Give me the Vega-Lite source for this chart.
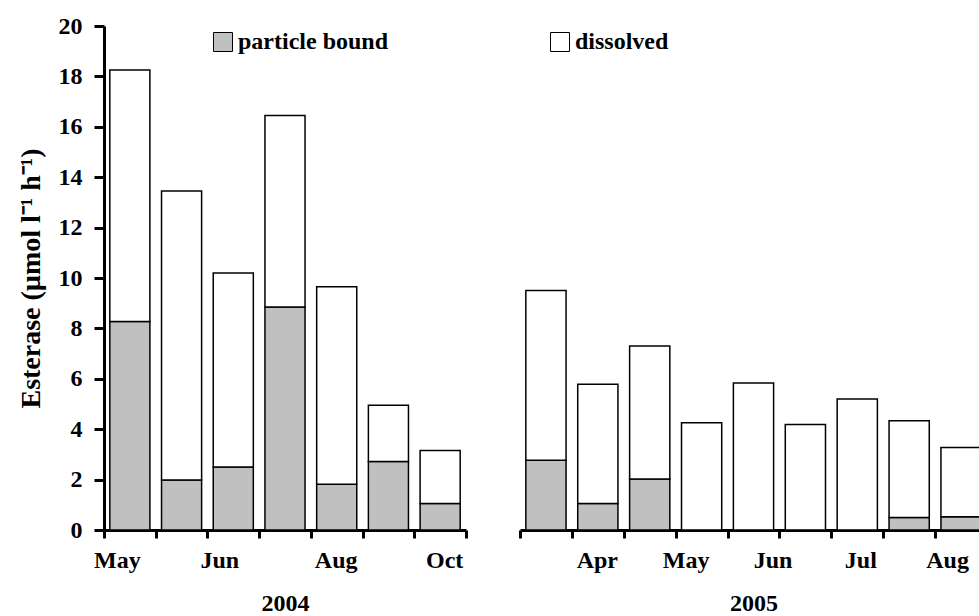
{
  "$schema": "https://vega.github.io/schema/vega-lite/v6.json",
  "padding": {"left": 17, "top": 14, "right": 0, "bottom": 0},
  "background": "white",
  "config": {
    "font": "Liberation Serif",
    "view": {"stroke": null},
    "axis": {
      "labelFont": "Liberation Serif", "labelFontWeight": "bold", "labelFontSize": 24, "labelColor": "black",
      "titleFont": "Liberation Serif", "titleFontWeight": "bold", "titleFontSize": 24, "titleColor": "black",
      "domainColor": "black", "domainWidth": 3, "tickColor": "black", "tickWidth": 3, "grid": false
    },
    "legend": {
      "labelFont": "Liberation Serif", "labelFontWeight": "bold", "labelFontSize": 24, "labelColor": "black"
    }
  },
  "datasets": {
    "y2004": [
      {"sample": "04-1", "type": "particle bound", "value": 8.27},
      {"sample": "04-1", "type": "dissolved", "value": 9.98},
      {"sample": "04-2", "type": "particle bound", "value": 1.98},
      {"sample": "04-2", "type": "dissolved", "value": 11.47},
      {"sample": "04-3", "type": "particle bound", "value": 2.5},
      {"sample": "04-3", "type": "dissolved", "value": 7.7},
      {"sample": "04-4", "type": "particle bound", "value": 8.85},
      {"sample": "04-4", "type": "dissolved", "value": 7.6},
      {"sample": "04-5", "type": "particle bound", "value": 1.82},
      {"sample": "04-5", "type": "dissolved", "value": 7.83},
      {"sample": "04-6", "type": "particle bound", "value": 2.72},
      {"sample": "04-6", "type": "dissolved", "value": 2.23},
      {"sample": "04-7", "type": "particle bound", "value": 1.05},
      {"sample": "04-7", "type": "dissolved", "value": 2.1}
    ],
    "y2005": [
      {"sample": "05-1", "type": "particle bound", "value": 2.77},
      {"sample": "05-1", "type": "dissolved", "value": 6.73},
      {"sample": "05-2", "type": "particle bound", "value": 1.05},
      {"sample": "05-2", "type": "dissolved", "value": 4.73},
      {"sample": "05-3", "type": "particle bound", "value": 2.02},
      {"sample": "05-3", "type": "dissolved", "value": 5.28},
      {"sample": "05-4", "type": "particle bound", "value": 0},
      {"sample": "05-4", "type": "dissolved", "value": 4.26},
      {"sample": "05-5", "type": "particle bound", "value": 0},
      {"sample": "05-5", "type": "dissolved", "value": 5.83},
      {"sample": "05-6", "type": "particle bound", "value": 0},
      {"sample": "05-6", "type": "dissolved", "value": 4.19},
      {"sample": "05-7", "type": "particle bound", "value": 0},
      {"sample": "05-7", "type": "dissolved", "value": 5.2},
      {"sample": "05-8", "type": "particle bound", "value": 0.5},
      {"sample": "05-8", "type": "dissolved", "value": 3.84},
      {"sample": "05-9", "type": "particle bound", "value": 0.53},
      {"sample": "05-9", "type": "dissolved", "value": 2.74}
    ]
  },
  "spacing": 50,
  "resolve": {"scale": {"color": "shared"}},
  "hconcat": [
    {
      "width": 362,
      "height": 504,
      "data": {"name": "y2004"},
      "mark": {"type": "bar", "stroke": "black", "strokeWidth": 1.5, "width": {"band": 0.775}},
      "encoding": {
        "x": {
          "field": "sample", "type": "nominal", "sort": null,
          "scale": {"paddingInner": 0, "paddingOuter": 0},
          "axis": {
            "title": "2004", "labelAngle": 0, "tickBand": "extent", "tickSize": 8, "labelPadding": 10, "titlePadding": 19,
            "labelExpr": "datum.value == '04-1' ? 'May' : datum.value == '04-3' ? 'Jun' : datum.value == '04-5' ? 'Aug' : datum.value == '04-7' ? 'Oct' : ''",
            "labelOffset": {"expr": "datum.value == '04-1' ? -13 : datum.value == '04-3' ? -14 : datum.value == '04-5' ? -1 : datum.value == '04-7' ? 4 : 0"}
          }
        },
        "y": {
          "field": "value", "type": "quantitative", "stack": "zero",
          "scale": {"domain": [0, 20], "nice": false},
          "axis": {"title": "Esterase (µmol l⁻¹ h⁻¹)", "titleFontSize": 28, "values": [0, 2, 4, 6, 8, 10, 12, 14, 16, 18, 20], "tickSize": 10, "labelPadding": 12, "titlePadding": 13}
        },
        "color": {
          "field": "type", "type": "nominal",
          "scale": {"domain": ["particle bound", "dissolved"], "range": ["#c0c0c0", "#ffffff"]},
          "legend": {
            "title": null, "orient": "none", "direction": "horizontal", "legendX": 107, "legendY": 4,
            "symbolType": "square", "symbolSize": 361, "symbolStrokeColor": "black", "symbolStrokeWidth": 1,
            "labelOffset": 3, "columnPadding": 159
          }
        },
        "order": {"field": "type", "sort": "descending"}
      }
    },
    {
      "width": 467,
      "height": 504,
      "data": {"name": "y2005"},
      "mark": {"type": "bar", "stroke": "black", "strokeWidth": 1.5, "width": {"band": 0.775}},
      "encoding": {
        "x": {
          "field": "sample", "type": "nominal", "sort": null,
          "scale": {"paddingInner": 0, "paddingOuter": 0},
          "axis": {
            "title": "2005", "labelAngle": 0, "tickBand": "extent", "tickSize": 8, "labelPadding": 10, "titlePadding": 19,
            "labelExpr": "datum.value == '05-2' ? 'Apr' : datum.value == '05-4' ? 'May' : datum.value == '05-5' ? 'Jun' : datum.value == '05-7' ? 'Jul' : datum.value == '05-9' ? 'Aug' : ''",
            "labelOffset": {"expr": "datum.value == '05-2' ? -1 : datum.value == '05-4' ? -16 : datum.value == '05-5' ? 19 : datum.value == '05-7' ? 3 : datum.value == '05-9' ? -14 : 0"}
          }
        },
        "y": {
          "field": "value", "type": "quantitative", "stack": "zero",
          "scale": {"domain": [0, 20], "nice": false},
          "axis": null
        },
        "color": {
          "field": "type", "type": "nominal",
          "scale": {"domain": ["particle bound", "dissolved"], "range": ["#c0c0c0", "#ffffff"]},
          "legend": {
            "title": null, "orient": "none", "direction": "horizontal", "legendX": 107, "legendY": 4,
            "symbolType": "square", "symbolSize": 361, "symbolStrokeColor": "black", "symbolStrokeWidth": 1,
            "labelOffset": 3, "columnPadding": 159
          }
        },
        "order": {"field": "type", "sort": "descending"}
      }
    }
  ]
}
